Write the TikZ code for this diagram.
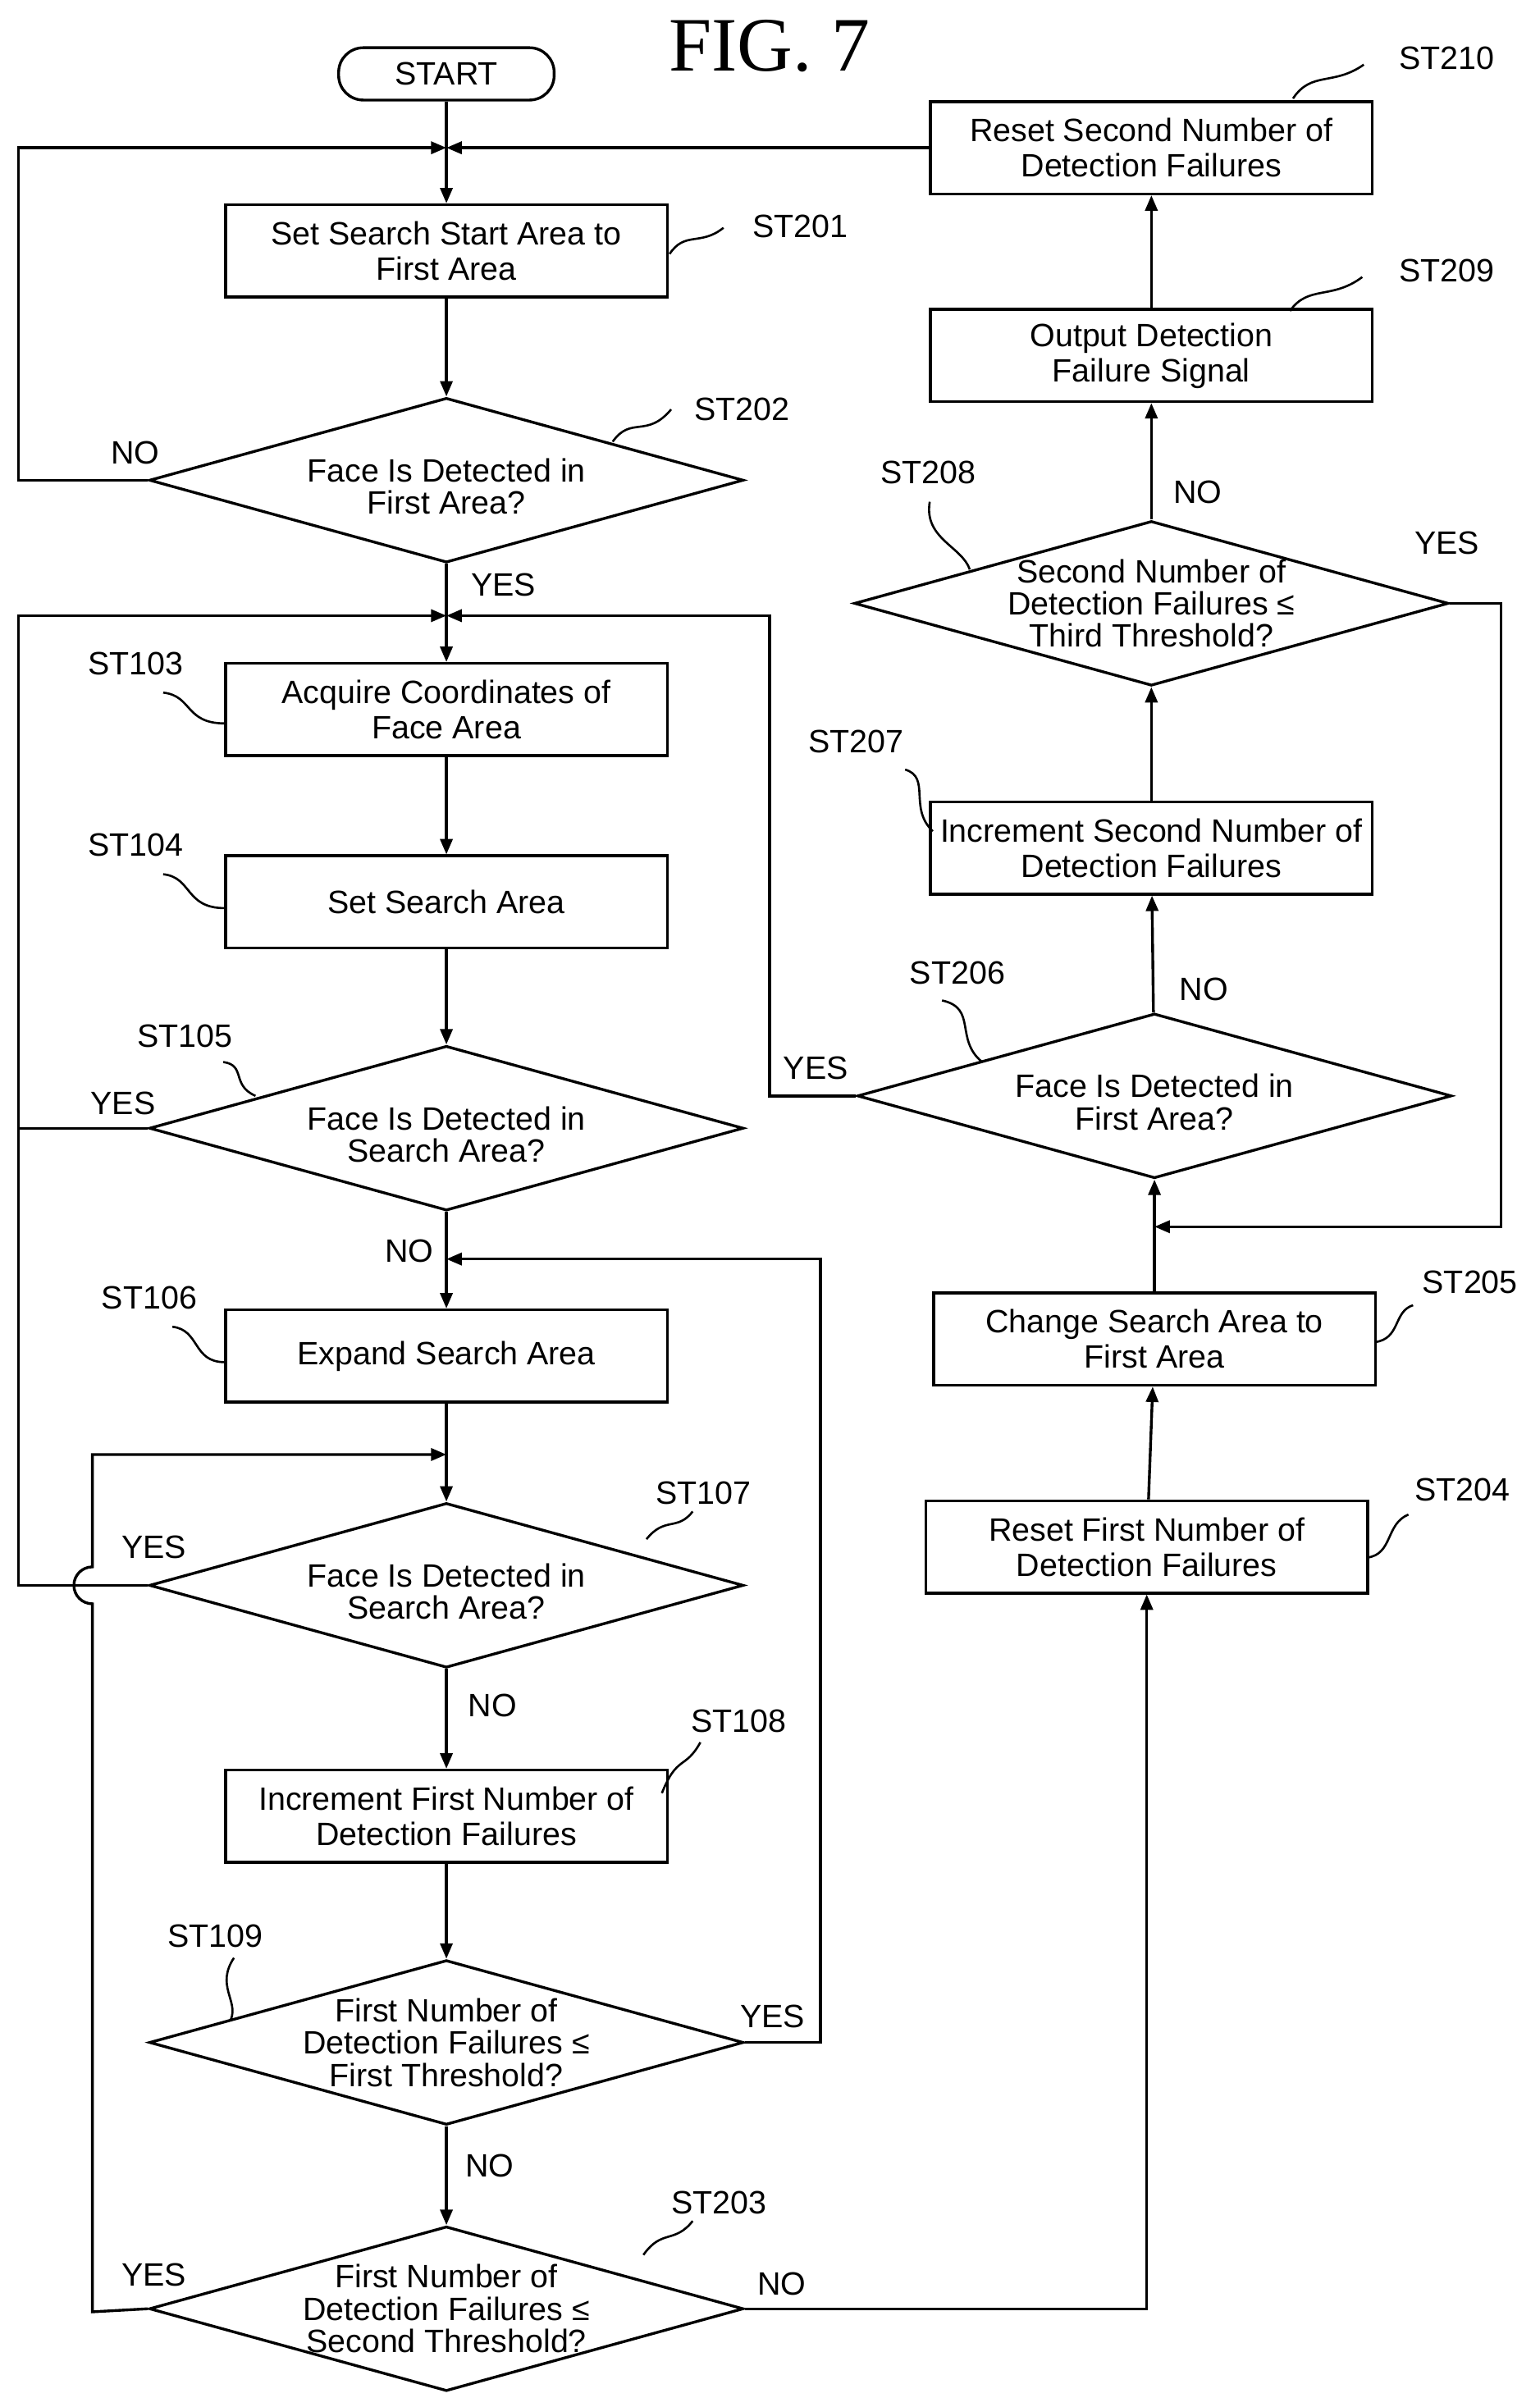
\documentclass[tikz,border=0pt]{standalone}
\usepackage{fontspec}
\setmainfont{Liberation Sans}
\newfontfamily\serif{Liberation Serif}
\usetikzlibrary{shapes.geometric,arrows.meta}
\begin{document}
\begin{tikzpicture}[x=0.5pt,y=-0.5pt,line width=0.9pt,
 box/.style={draw,minimum width=143.5pt,minimum height=30pt,align=center,inner sep=1pt,font=\fontsize{10.5}{11.5}\selectfont},
 dia/.style={draw,diamond,minimum width=193pt,minimum height=53.5pt,inner sep=0pt},
 dtext/.style={align=center,font=\fontsize{10.5}{10.5}\selectfont},
 lab/.style={font=\fontsize{10.5}{12}\selectfont},
 arr/.style={-{Triangle[length=5pt,width=4pt]}},
 sq/.style={line width=0.7pt}]
\useasboundingbox (0,0) rectangle (1000,1558);
\node[font=\serif\fontsize{25}{28}\selectfont] (fig) at (500,30) {FIG. 7};
\node[draw,rounded corners=8pt,minimum width=70pt,minimum height=17pt,font=\fontsize{10.5}{12}\selectfont] (start) at (290,48) {START};
\node[box] (b201) at (290,163) {Set Search Start Area to\\First Area};
\node[dia] (d202) at (290,312) {}; \node[dtext] (t202) at (290,316) {Face Is Detected in\\First Area?};
\node[box] (b103) at (290,461) {Acquire Coordinates of\\Face Area};
\node[box] (b104) at (290,586) {Set Search Area};
\node[dia] (d105) at (290,733) {}; \node[dtext] (t105) at (290,737) {Face Is Detected in\\Search Area?};
\node[box] (b106) at (290,881) {Expand Search Area};
\node[dia] (d107) at (290,1030) {}; \node[dtext] (t107) at (290,1034) {Face Is Detected in\\Search Area?};
\node[box] (b108) at (290,1180) {Increment First Number of\\Detection Failures};
\node[dia] (d109) at (290,1327) {}; \node[dtext] (t109) at (290,1327) {First Number of\\Detection Failures ≤\\First Threshold?};
\node[dia] (d203) at (290,1500) {}; \node[dtext] (t203) at (290,1500) {First Number of\\Detection Failures ≤\\Second Threshold?};
\node[box] (b204) at (745,1005) {Reset First Number of\\Detection Failures};
\node[box] (b205) at (750,870) {Change Search Area to\\First Area};
\node[dia] (d206) at (750,712) {}; \node[dtext] (t206) at (750,716) {Face Is Detected in\\First Area?};
\node[box] (b207) at (748,551) {Increment Second Number of\\Detection Failures};
\node[dia] (d208) at (748,392) {}; \node[dtext] (t208) at (748,392) {Second Number of\\Detection Failures ≤\\Third Threshold?};
\node[box] (b209) at (748,231) {Output Detection\\Failure Signal};
\node[box] (b210) at (748,96) {Reset Second Number of\\Detection Failures};
\coordinate (j1) at (290,96); \coordinate (j2) at (290,400);
\coordinate (j3) at (290,818); \coordinate (j4) at (290,945);
\coordinate (j5) at (750,797);
% main spine
\draw[arr] (start) -- (b201);
\draw[arr] (b201) -- (d202);
\draw[arr] (d202) -- (b103);
\draw[arr] (b103) -- (b104);
\draw[arr] (b104) -- (d105);
\draw[arr] (d105) -- (b106);
\draw[arr] (b106) -- (d107);
\draw[arr] (d107) -- (b108);
\draw[arr] (b108) -- (d109);
\draw[arr] (d109) -- (d203);
% loops
\draw[arr] (d202.west) -- (12,312) -- (12,96) -- (j1);
\draw[arr] (b210.west) -- (j1);
\draw[arr] (d105.west) -- (12,733) -- (12,400) -- (j2);
\draw (d107.west) -- (12,1030) -- (12,733);
\draw[arr] (d206.west) -- (500,712) -- (500,400) -- (j2);
\draw[arr] (d109.east) -- (533,1327) -- (533,818) -- (j3);
\draw[arr] (d203.west) -- (60,1502) -- (60,1042) arc[start angle=270,end angle=90,radius=6pt] -- (60,945) -- (j4);
\draw[arr] (d203.east) -- (745,1500) -- (b204.south);
\draw[arr] (b204) -- (b205);
\draw[arr] (b205) -- (d206);
\draw[arr] (d208.east) -- (975,392) -- (975,797) -- (j5);
\draw[arr] (d206) -- (b207);
\draw[arr] (b207) -- (d208);
\draw[arr] (d208) -- (b209);
\draw[arr] (b209) -- (b210);
% yes/no
\node[lab] (l1) at (88,294) {NO};
\node[lab] (l2) at (327,380) {YES};
\node[lab] (l3) at (80,717) {YES};
\node[lab] (l4) at (266,813) {NO};
\node[lab] (l5) at (100,1005) {YES};
\node[lab] (l6) at (320,1108) {NO};
\node[lab] (l7) at (502,1310) {YES};
\node[lab] (l8) at (318,1407) {NO};
\node[lab] (l9) at (100,1478) {YES};
\node[lab] (l10) at (508,1484) {NO};
\node[lab] (l11) at (530,694) {YES};
\node[lab] (l12) at (782,643) {NO};
\node[lab] (l13) at (778,320) {NO};
\node[lab] (l14) at (940,353) {YES};
% step labels
\node[lab] (s201) at (520,147) {ST201};
\node[lab] (s202) at (482,266) {ST202};
\node[lab] (s103) at (88,431) {ST103};
\node[lab] (s104) at (88,549) {ST104};
\node[lab] (s105) at (120,673) {ST105};
\node[lab] (s106) at (97,843) {ST106};
\node[lab] (s107) at (457,970) {ST107};
\node[lab] (s108) at (480,1118) {ST108};
\node[lab] (s109) at (140,1258) {ST109};
\node[lab] (s203) at (467,1431) {ST203};
\node[lab] (s204) at (950,968) {ST204};
\node[lab] (s205) at (955,833) {ST205};
\node[lab] (s206) at (622,632) {ST206};
\node[lab] (s207) at (556,482) {ST207};
\node[lab] (s208) at (603,307) {ST208};
\node[lab] (s209) at (940,176) {ST209};
\node[lab] (s210) at (940,38) {ST210};
% squiggles
\draw[sq] (435,165) .. controls (445,150) and (455,160) .. (470,148);
\draw[sq] (398,287) .. controls (410,270) and (420,285) .. (436,266);
\draw[sq] (106,450) .. controls (125,452) and (120,470) .. (146,470);
\draw[sq] (106,568) .. controls (125,570) and (120,590) .. (146,590);
\draw[sq] (145,690) .. controls (160,692) and (150,705) .. (166,712);
\draw[sq] (112,862) .. controls (130,864) and (125,885) .. (146,885);
\draw[sq] (420,1000) .. controls (432,985) and (440,995) .. (450,982);
\draw[sq] (430,1165) .. controls (440,1140) and (445,1150) .. (455,1132);
\draw[sq] (152,1272) .. controls (140,1290) and (155,1300) .. (150,1312);
\draw[sq] (418,1465) .. controls (430,1448) and (438,1458) .. (450,1443);
\draw[sq] (888,1012) .. controls (905,1010) and (900,990) .. (915,984);
\draw[sq] (893,872) .. controls (910,870) and (905,852) .. (918,848);
\draw[sq] (612,650) .. controls (635,655) and (620,675) .. (638,690);
\draw[sq] (588,500) .. controls (605,505) and (590,525) .. (606,540);
\draw[sq] (604,326) .. controls (600,350) and (625,355) .. (630,370);
\draw[sq] (838,202) .. controls (850,185) and (865,195) .. (885,180);
\draw[sq] (840,64) .. controls (852,46) and (866,56) .. (886,42);
\end{tikzpicture}
\end{document}
